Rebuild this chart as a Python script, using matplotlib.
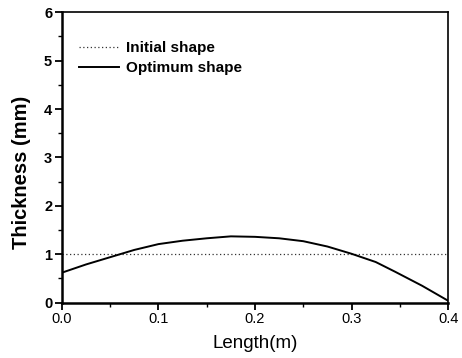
import matplotlib
matplotlib.use("Agg")
import matplotlib.pyplot as plt
from matplotlib.ticker import MultipleLocator, FormatStrFormatter

length = [0.0, 0.025, 0.05, 0.075, 0.1, 0.125, 0.15, 0.175, 0.2, 0.225,
          0.25, 0.275, 0.3, 0.325, 0.345, 0.373, 0.4]
optimum = [0.62, 0.79, 0.94, 1.09, 1.21, 1.28, 1.33, 1.37, 1.36, 1.33,
           1.27, 1.16, 1.01, 0.84, 0.64, 0.35, 0.04]
initial_x = [0.0, 0.4]
initial = [1.0, 1.0]

plt.rcParams['font.family'] = ['Liberation Sans', 'DejaVu Sans']

fig = plt.figure(figsize=(4.62, 3.58), dpi=100)
ax = fig.add_axes([0.134, 0.1545, 0.836, 0.8115])

ax.plot(initial_x, initial, color='#333333', linestyle=(0, (1, 2)), lw=0.9,
        label='Initial shape')
ax.plot(length, optimum, color='black', lw=1.4, label='Optimum shape')

ax.set_xlim(0, 0.4)
ax.set_ylim(0, 6)
ax.xaxis.set_major_locator(MultipleLocator(0.1))
ax.xaxis.set_minor_locator(MultipleLocator(0.05))
ax.yaxis.set_major_locator(MultipleLocator(1))
ax.yaxis.set_minor_locator(MultipleLocator(0.5))
ax.xaxis.set_major_formatter(FormatStrFormatter('%.1f'))
ax.tick_params(which='major', direction='out', length=5, width=1.3,
               labelsize=10.5, pad=2)
ax.tick_params(which='minor', direction='out', length=3, width=1.0)
ax.tick_params(top=False, right=False)
for lab in ax.get_yticklabels():
    lab.set_fontweight('bold')
for s in ['left', 'bottom']:
    ax.spines[s].set_linewidth(1.8)
for s in ['top', 'right']:
    ax.spines[s].set_linewidth(1.2)

ax.set_xlabel('Length(m)', fontsize=13.5, labelpad=6)
ax.set_ylabel('Thickness (mm)', fontsize=14.5, fontweight='bold')
ax.yaxis.set_label_coords(-0.08, 0.45)

leg = ax.legend(loc='upper left', bbox_to_anchor=(0.045, 0.9), frameon=False,
                fontsize=11, handlelength=2.6, handletextpad=0.45,
                labelspacing=0.4, borderpad=0, borderaxespad=0)
for t in leg.get_texts():
    t.set_fontweight('bold')

fig.savefig('out.png', dpi=100)
